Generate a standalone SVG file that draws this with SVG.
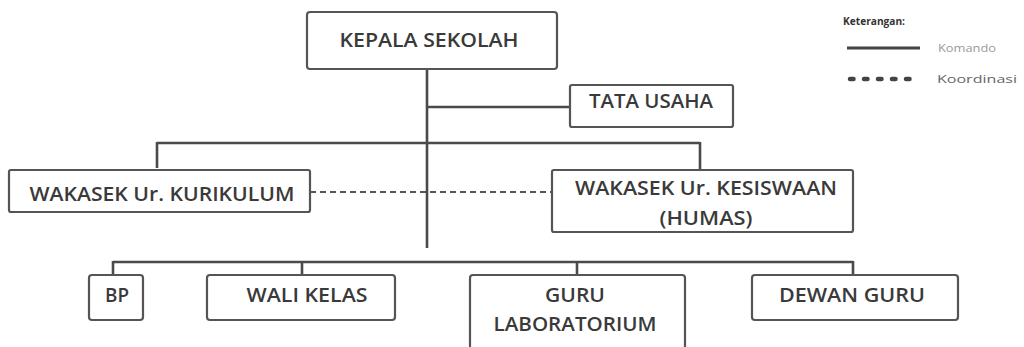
<svg xmlns="http://www.w3.org/2000/svg" width="1024" height="347" viewBox="0 0 1024 347">
<style>
.box{fill:#fff;stroke:#555;stroke-width:2.2}
.t{font-family:"Open Sans","Noto Sans","Liberation Sans",sans-serif;font-size:19px;fill:#3a3a3a;text-anchor:middle;font-weight:600}
.ln{stroke:#4a4a4a;stroke-width:2.6;fill:none}
.dash{stroke:#555;stroke-width:2;stroke-dasharray:6,4;fill:none}
.lg{font-family:"Open Sans","Noto Sans","Liberation Sans",sans-serif;font-size:11px}
</style>
<rect width="1024" height="347" fill="#fff"/>
<g id="connectors">
<line class="ln" x1="427" y1="69" x2="427" y2="248"/>
<line class="ln" x1="427" y1="107" x2="570" y2="107"/>
<line class="ln" x1="157" y1="143" x2="700" y2="143"/>
<line class="ln" x1="157" y1="142" x2="157" y2="168"/>
<line class="ln" x1="700" y1="142" x2="700" y2="170"/>
<line class="dash" x1="310" y1="192" x2="552" y2="192"/>
<line class="ln" x1="113" y1="262" x2="853" y2="262"/>
<line class="ln" x1="113" y1="261" x2="113" y2="275"/>
<line class="ln" x1="302" y1="261" x2="302" y2="275"/>
<line class="ln" x1="577" y1="261" x2="577" y2="275"/>
<line class="ln" x1="853" y1="261" x2="853" y2="275"/>
</g>
<g id="kepala">
<rect class="box" x="307" y="12" width="250" height="57" rx="3"/>
<text class="t" x="429" y="47" textLength="179" lengthAdjust="spacingAndGlyphs">KEPALA SEKOLAH</text>
</g>
<g id="tatausaha">
<rect class="box" x="570" y="85" width="163" height="42" rx="2"/>
<text class="t" x="651" y="108" textLength="124" lengthAdjust="spacingAndGlyphs">TATA USAHA</text>
</g>
<g id="kurikulum">
<rect class="box" x="9" y="170" width="301" height="42" rx="2"/>
<text class="t" x="162" y="201" textLength="265" lengthAdjust="spacingAndGlyphs">WAKASEK Ur. KURIKULUM</text>
</g>
<g id="kesiswaan">
<rect class="box" x="552" y="170" width="301" height="62" rx="2"/>
<text class="t" x="706" y="195" textLength="262" lengthAdjust="spacingAndGlyphs">WAKASEK Ur. KESISWAAN</text>
<text class="t" x="706" y="225" textLength="93" lengthAdjust="spacingAndGlyphs">(HUMAS)</text>
</g>
<g id="bp">
<rect class="box" x="89" y="275" width="54" height="45" rx="3"/>
<text class="t" x="117" y="302" textLength="24" lengthAdjust="spacingAndGlyphs">BP</text>
</g>
<g id="walikelas">
<rect class="box" x="207" y="275" width="188" height="45" rx="3"/>
<text class="t" x="307" y="302" textLength="121" lengthAdjust="spacingAndGlyphs">WALI KELAS</text>
</g>
<g id="gurulab">
<rect class="box" x="470" y="275" width="215" height="80" rx="3"/>
<text class="t" x="575" y="302" textLength="60" lengthAdjust="spacingAndGlyphs">GURU</text>
<text class="t" x="575" y="331" textLength="163" lengthAdjust="spacingAndGlyphs">LABORATORIUM</text>
</g>
<g id="dewanguru">
<rect class="box" x="752" y="275" width="206" height="45" rx="3"/>
<text class="t" x="852" y="302" textLength="146" lengthAdjust="spacingAndGlyphs">DEWAN GURU</text>
</g>
<g id="legend">
<text class="lg" x="843" y="25" font-weight="bold" fill="#333" textLength="62" lengthAdjust="spacingAndGlyphs">Keterangan:</text>
<line x1="847" y1="48" x2="920" y2="48" stroke="#444" stroke-width="3"/>
<text class="lg" x="938" y="52" fill="#999" textLength="58" lengthAdjust="spacingAndGlyphs">Komando</text>
<line x1="850" y1="79" x2="920" y2="79" stroke="#444" stroke-width="4.5" stroke-linecap="round" stroke-dasharray="3.5,10.5"/>
<text class="lg" x="937" y="83" fill="#666" textLength="80" lengthAdjust="spacingAndGlyphs">Koordinasi</text>
</g>
</svg>
